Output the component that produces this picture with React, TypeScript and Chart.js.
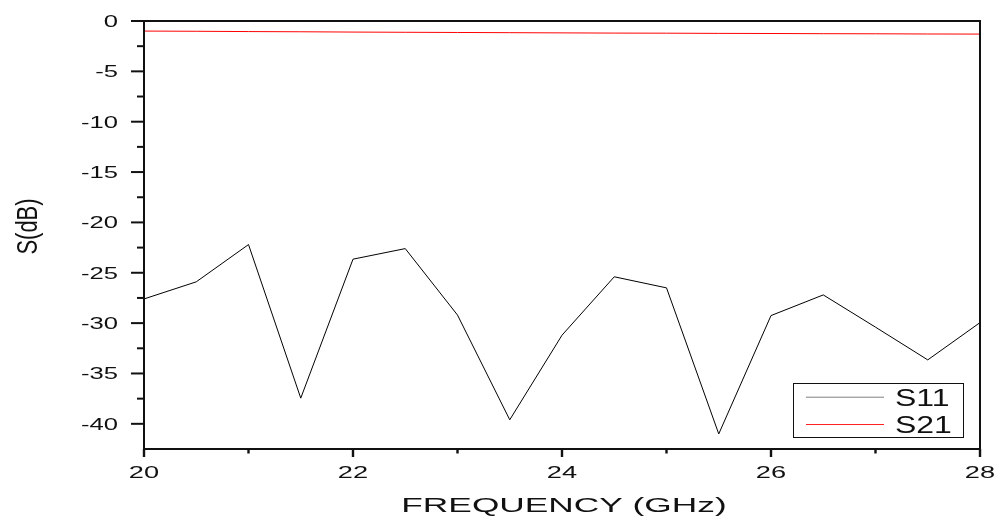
import React, { useEffect, useRef } from "react";
import { Chart, registerables } from "chart.js";

Chart.register(...registerables);

const frequencies = [20, 20.5, 21, 21.5, 22, 22.5, 23, 23.5, 24, 24.5, 25, 25.5, 26, 26.5, 27, 27.5, 28];
const s11 = [-27.6, -25.9, -22.2, -37.45, -23.65, -22.6, -29.2, -39.6, -31.2, -25.4, -26.5, -41.0, -29.25, -27.2, -30.4, -33.65, -29.95];
const s21 = [-1.0, -1.02, -1.05, -1.07, -1.1, -1.12, -1.14, -1.16, -1.18, -1.2, -1.21, -1.23, -1.24, -1.26, -1.27, -1.29, -1.3];

const xMajorTicks = [20, 22, 24, 26, 28];
const xMinorTicks = [21, 23, 25, 27];
const yMajorTicks = [0, -5, -10, -15, -20, -25, -30, -35, -40];
const yMinorTicks = [-2.5, -7.5, -12.5, -17.5, -22.5, -27.5, -32.5, -37.5];

const seriesLabels = ["S11", "S21"];
const seriesColors = ["#000000", "#ff0000"];
const legendLineColors = ["#808080", "#ff2020"];

const X_TITLE = "FREQUENCY (GHz)";
const Y_TITLE = "S(dB)";

const FONT = "'Liberation Sans', Arial, sans-serif";

function stretchedText(
  ctx: CanvasRenderingContext2D,
  text: string,
  x: number,
  y: number,
  align: CanvasTextAlign,
  sx: number,
  size: number
) {
  ctx.save();
  ctx.translate(x, y);
  ctx.scale(sx, 1);
  ctx.font = `${size}px ${FONT}`;
  ctx.textAlign = align;
  ctx.textBaseline = "alphabetic";
  ctx.fillText(text, 0, 0);
  ctx.restore();
}

const framePlugin = {
  id: "originFrame",
  afterDraw(chart: any) {
    const ctx: CanvasRenderingContext2D = chart.ctx;
    const { left, right, top, bottom } = chart.chartArea;
    const xs = chart.scales.x;
    const ys = chart.scales.y;
    ctx.save();
    ctx.strokeStyle = "#111";
    ctx.fillStyle = "#111";
    ctx.lineWidth = 2;
    // frame
    ctx.beginPath();
    ctx.rect(left, top, right - left, bottom - top);
    ctx.stroke();

    // y ticks
    ctx.lineWidth = 2;
    ys.ticks.forEach((t: any) => {
      const py = ys.getPixelForValue(t.value);
      ctx.beginPath();
      ctx.moveTo(left - 13, py);
      ctx.lineTo(left, py);
      ctx.stroke();
      stretchedText(ctx, String(t.value), left - 26, py + 5.8, "right", 1.6, 16);
    });
    yMinorTicks.forEach((v) => {
      const py = ys.getPixelForValue(v);
      ctx.beginPath();
      ctx.moveTo(left - 7, py);
      ctx.lineTo(left, py);
      ctx.stroke();
    });

    // x ticks
    ctx.lineWidth = 2.4;
    xs.ticks.forEach((t: any) => {
      const px = xs.getPixelForValue(t.value);
      ctx.beginPath();
      ctx.moveTo(px, bottom);
      ctx.lineTo(px, bottom + 8);
      ctx.stroke();
      stretchedText(ctx, String(t.value), px, bottom + 29.3, "center", 1.7, 16);
    });
    xMinorTicks.forEach((v) => {
      const px = xs.getPixelForValue(v);
      ctx.beginPath();
      ctx.moveTo(px, bottom);
      ctx.lineTo(px, bottom + 4.5);
      ctx.stroke();
    });

    // axis titles
    stretchedText(ctx, X_TITLE, (left + right) / 2 + 2, 511.7, "center", 1.68, 21);
    ctx.save();
    ctx.translate(36.5, 226.5);
    ctx.scale(1.37, 1);
    ctx.rotate(-Math.PI / 2);
    ctx.font = `22px ${FONT}`;
    ctx.textAlign = "center";
    ctx.textBaseline = "alphabetic";
    ctx.fillText(Y_TITLE, 0, 0);
    ctx.restore();

    // legend
    const bx = 793, by = 383, bw = 170, bh = 54;
    ctx.fillStyle = "#ffffff";
    ctx.fillRect(bx, by, bw, bh);
    ctx.lineWidth = 1;
    ctx.strokeStyle = "#111";
    ctx.strokeRect(bx + 0.5, by + 0.5, bw, bh);
    const rows = [396.7, 424];
    const bases = [405.7, 432.7];
    chart.data.datasets.forEach((ds: any, i: number) => {
      ctx.strokeStyle = legendLineColors[i];
      ctx.lineWidth = 1;
      ctx.beginPath();
      ctx.moveTo(806, rows[i] + 0.5);
      ctx.lineTo(884, rows[i] + 0.5);
      ctx.stroke();
      ctx.fillStyle = "#111";
      stretchedText(ctx, ds.label, 895, bases[i], "left", 1.39, 23);
    });
    ctx.restore();
  },
};

export default function App() {
  const canvasRef = useRef<HTMLCanvasElement | null>(null);

  useEffect(() => {
    const canvas = canvasRef.current;
    if (!canvas) return;
    const datasets = [s11, s21].map((vals, i) => ({
      label: seriesLabels[i],
      data: frequencies.map((f, j) => ({ x: f, y: vals[j] })),
      borderColor: seriesColors[i],
      backgroundColor: seriesColors[i],
      borderWidth: 1,
      pointRadius: 0,
      tension: 0,
      fill: false,
    }));
    const chart = new Chart(canvas, {
      type: "line",
      data: { datasets },
      options: {
        responsive: false,
        animation: false,
        layout: { padding: { left: 0, top: 21, right: 18, bottom: 0 } },
        plugins: {
          legend: { display: false },
          tooltip: { enabled: false },
        },
        scales: {
          x: {
            type: "linear",
            min: 20,
            max: 28,
            grid: { display: false },
            border: { display: false },
            ticks: { display: false },
            afterBuildTicks: (scale: any) => {
              scale.ticks = xMajorTicks.map((v) => ({ value: v }));
            },
            afterFit: (scale: any) => {
              scale.height = 68;
            },
          },
          y: {
            type: "linear",
            min: -42.5,
            max: 0,
            grid: { display: false },
            border: { display: false },
            ticks: { display: false },
            afterBuildTicks: (scale: any) => {
              scale.ticks = yMajorTicks.map((v) => ({ value: v }));
            },
            afterFit: (scale: any) => {
              scale.width = 144;
            },
          },
        },
      } as any,
      plugins: [framePlugin],
    });
    return () => chart.destroy();
  }, []);

  return (
    <div style={{ position: "absolute", left: 0, top: 0, width: 998, height: 517, background: "#fff" }}>
      <canvas ref={canvasRef} width={998} height={517} />
    </div>
  );
}
